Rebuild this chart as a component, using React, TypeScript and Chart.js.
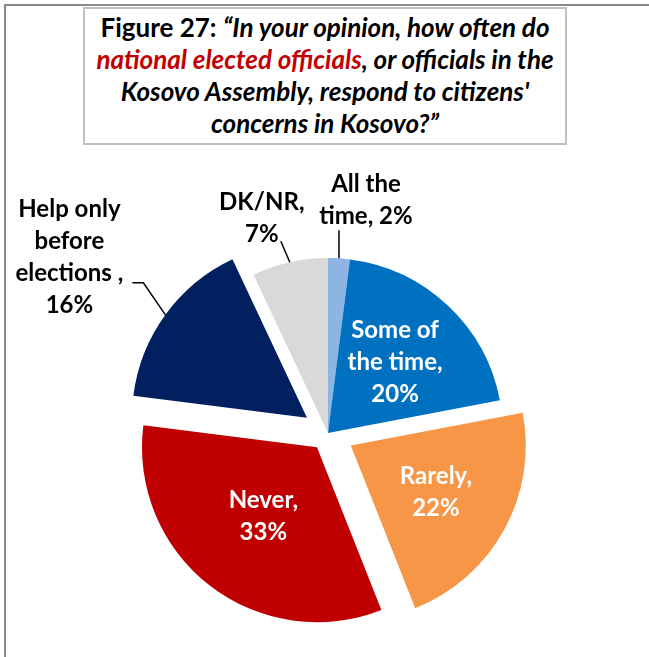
import React, { useEffect, useRef } from "react";
import { Chart, registerables } from "chart.js";

Chart.register(...registerables);

// ---- data ----
const categories = ["All the time", "Some of the time", "Rarely", "Never", "Help only before elections", "DK/NR"];
const values = [2, 20, 22, 33, 16, 7];
// how each category label is broken into lines (value is appended)
const labelWrap = [["All the", "time,"], ["Some of", "the time,"], ["Rarely,"], ["Never,"], ["Help only", "before", "elections ,"], ["DK/NR,"]];
const valueInline = [true, false, false, false, false, false];

// ---- style ----
const colors = ["#8EB4E3", "#0070C0", "#F79646", "#C00000", "#002060", "#D9D9D9"];
const explode = [0, 0, 26, 18, 26, 0];
const LABEL_FONT = "bold 24px Lato, 'Open Sans', sans-serif";
const LINE = 32;
type Place = { inside: true; r: number } | { inside: false; leader: number[][]; text: number[] };
const placements: Place[] = [
  { inside: false, leader: [[0, -28]], text: [27, -66] },
  { inside: true, r: 0.56 },
  { inside: true, r: 0.555 },
  { inside: true, r: 0.5 },
  { inside: false, leader: [[-22, -32], [-33, -32]], text: [-96, -98] },
  { inside: false, leader: [[-9, -21]], text: [-28, -52] },
];

function linesFor(i: number): string[] {
  const w = labelWrap[i].slice();
  const v = `${values[i]}%`;
  if (valueInline[i]) w[w.length - 1] = w[w.length - 1] + " " + v;
  else w.push(v);
  return w;
}

const explodePlugin = {
  id: "explodeSlices",
  beforeDatasetDraw(chart: any, args: any) {
    const ctx = chart.ctx;
    args.meta.data.forEach((arc: any, i: number) => {
      const mid = (arc.startAngle + arc.endAngle) / 2;
      const d = explode[i] || 0;
      ctx.save();
      ctx.translate(Math.cos(mid) * d, Math.sin(mid) * d);
      arc.draw(ctx);
      ctx.restore();
    });
    return false;
  },
};

const labelPlugin = {
  id: "sliceLabels",
  afterDatasetsDraw(chart: any) {
    const meta = chart.getDatasetMeta(0);
    const ctx = chart.ctx;
    ctx.save();
    ctx.font = LABEL_FONT;
    ctx.textAlign = "center";
    ctx.textBaseline = "alphabetic";
    meta.data.forEach((arc: any, i: number) => {
      const mid = (arc.startAngle + arc.endAngle) / 2;
      const d = explode[i] || 0;
      const cx = arc.x + Math.cos(mid) * d;
      const cy = arc.y + Math.sin(mid) * d;
      const R = arc.outerRadius;
      const lines = linesFor(i);
      const p = placements[i];
      if (p.inside) {
        const px = cx + Math.cos(mid) * R * p.r;
        const py = cy + Math.sin(mid) * R * p.r;
        ctx.fillStyle = "#ffffff";
        lines.forEach((t, k) => {
          ctx.fillText(t, px, py + (k - (lines.length - 1) / 2) * LINE + 8);
        });
      } else {
        const ax = cx + Math.cos(mid) * R;
        const ay = cy + Math.sin(mid) * R;
        ctx.strokeStyle = "#000000";
        ctx.lineWidth = 1.5;
        ctx.beginPath();
        ctx.moveTo(ax, ay);
        p.leader.forEach(([dx, dy]) => ctx.lineTo(ax + dx, ay + dy));
        ctx.stroke();
        ctx.fillStyle = "#000000";
        lines.forEach((t, k) => {
          ctx.fillText(t, ax + p.text[0], ay + p.text[1] + k * LINE);
        });
      }
    });
    ctx.restore();
  },
};

export default function App() {
  const ref = useRef<HTMLCanvasElement | null>(null);
  useEffect(() => {
    if (!ref.current) return;
    const chart = new Chart(ref.current, {
      type: "pie",
      data: {
        labels: categories,
        datasets: [
          {
            data: values,
            backgroundColor: colors,
            borderWidth: 0,
            radius: 175,
          } as any,
        ],
      },
      options: {
        responsive: false,
        animation: false,
        layout: { padding: { left: 80, right: 73, top: 215, bottom: 6 } },
        plugins: { legend: { display: false }, tooltip: { enabled: false }, title: { display: false } },
        events: [],
      },
      plugins: [explodePlugin, labelPlugin],
    });
    return () => chart.destroy();
  }, []);

  return (
    <div style={{ position: "fixed", left: 0, top: 0, width: 649, height: 657, background: "#fff", overflow: "hidden" }}>
      <canvas ref={ref} width={649} height={657} style={{ position: "absolute", left: 0, top: 0 }} />
      <div
        style={{
          position: "absolute",
          left: 4,
          top: 4,
          width: 700,
          height: 700,
          borderTop: "2px solid #8a8a8a",
          borderLeft: "2px solid #8a8a8a",
          pointerEvents: "none",
        }}
      />
      <div
        style={{
          position: "absolute",
          left: 83,
          top: 7,
          width: 484,
          height: 138,
          boxSizing: "border-box",
          border: "2px solid #c0c0c0",
          background: "#fff",
          textAlign: "center",
          fontFamily: "Lato, 'Open Sans', sans-serif",
          fontWeight: 700,
          fontSize: 26,
          lineHeight: "32px",
          paddingTop: 2,
          color: "#000",
          whiteSpace: "nowrap",
        }}
      >
        Figure 27: <i>“In your opinion, how often do</i>
        <br />
        <i>
          <span style={{ color: "#C00000" }}>national elected officials</span>, or officials in the
        </i>
        <br />
        <i>Kosovo Assembly, respond to citizens'</i>
        <br />
        <i>concerns in Kosovo?”</i>
      </div>
    </div>
  );
}
